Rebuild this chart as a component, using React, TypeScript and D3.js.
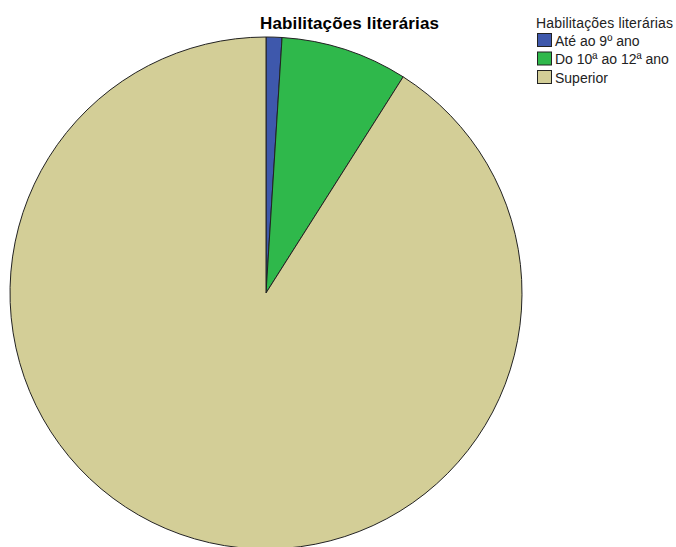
import React from "react";
import * as d3 from "d3";

const categories = ["Até ao 9º ano", "Do 10ª ao 12ª ano", "Superior"];
const values = [1, 8, 91];
const colors = ["#3e58ac", "#2fb84b", "#d3ce97"];
const title = "Habilitações literárias";

export default function App() {
  const W = 676, H = 547;
  const cx = 266, cy = 293, r = 256;
  const pie = d3.pie<number>().sort(null).value((d) => d)(values);
  const arc = d3.arc<d3.PieArcDatum<number>>().innerRadius(0).outerRadius(r);
  return (
    <svg width={W} height={H} style={{ position: "absolute", left: 0, top: 0, background: "#fff" }}
      fontFamily="'Liberation Sans', Arial, sans-serif">
      <g transform={`translate(${cx},${cy})`}>
        {pie.map((p, i) => (
          <path key={i} d={arc(p) || ""} fill={colors[i]} stroke="#222" strokeWidth={1} strokeLinejoin="round" />
        ))}
      </g>
      <text x={260} y={29} fontWeight="bold" fontSize={17} textLength={179} fill="#000">{title}</text>
      <text x={536} y={28} fontSize={14} textLength={137} fill="#222">{title}</text>
      {categories.map((c, i) => (
        <g key={c} transform={`translate(537,${33 + i * 18.5})`}>
          <rect x={0.5} y={0.5} width={14} height={13} fill={colors[i]} stroke="#222" strokeWidth={1} />
          <text x={18} y={12.5} fontSize={14} fill="#222">{c}</text>
        </g>
      ))}
    </svg>
  );
}
